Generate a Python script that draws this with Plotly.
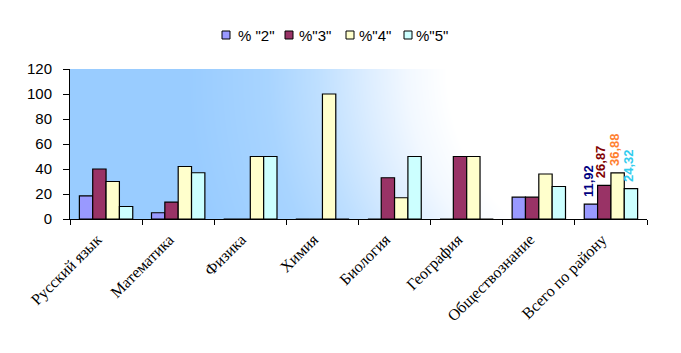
import plotly.graph_objects as go
import zlib, struct, base64, math

categories = ["Русский язык", "Математика", "Физика", "Химия", "Биология",
              "География", "Обществознание", "Всего по району"]
series_names = ['% "2"', '%"3"', '%"4"', '%"5"']
v2 = [18.5, 5, 0, 0, 0, 0, 17.5, 11.92]
v3 = [40, 13.5, 0, 0, 33, 50, 17.5, 26.87]
v4 = [30, 42, 50, 100, 17, 50, 36, 36.88]
v5 = [10, 37, 50, 0, 50, 0, 26, 24.32]
y_ticks = [0, 20, 40, 60, 80, 100, 120]

fill_colors = ["#9999FF", "#993366", "#FFFFCC", "#CCFFFF"]
label_colors = ["#000080", "#800000", "#FF8030", "#33CCEE"]

FIG_W, FIG_H = 681, 353
ML, MR, MT, MB = 70, 34, 69, 134
W, H = FIG_W - ML - MR, FIG_H - MT - MB
BARGAP = 0.26

fig = go.Figure()
for name, vals, fc in zip(series_names, [v2, v3, v4, v5], fill_colors):
    fig.add_trace(go.Bar(
        x=categories, y=vals, name=name, showlegend=False,
        marker=dict(color=fc, line=dict(color="black", width=1.2)),
    ))

# data labels for the last category (value read from the series arrays)
bar_px = W / len(categories) * (1 - BARGAP) / 4
annotations = []
for i, vals in enumerate([v2, v3, v4, v5]):
    annotations.append(dict(
        x=categories[-1], y=vals[-1], xref="x", yref="y",
        text="<b>" + f"{vals[-1]:.2f}".replace(".", ",") + "</b>",
        textangle=-90, showarrow=False, xanchor="center", yanchor="bottom",
        xshift=(i - 1.5) * bar_px - 3, yshift=5,
        font=dict(family="Liberation Sans, Arial", size=13, color=label_colors[i]),
    ))

# plot-area gradient background (radial from the top-right corner) as a PNG
stops = [(0, (255, 255, 255)), (200, (255, 255, 255)), (240, (242, 248, 255)),
         (280, (220, 237, 255)), (330, (190, 223, 255)), (380, (168, 212, 255)),
         (460, (153, 204, 255)), (10000, (153, 204, 255))]
def color_at(d):
    for (d0, c0), (d1, c1) in zip(stops, stops[1:]):
        if d <= d1:
            t = (d - d0) / (d1 - d0)
            return tuple(int(round(a + (b - a) * t)) for a, b in zip(c0, c1))
    return stops[-1][1]
raw = bytearray()
for yy in range(H):
    raw.append(0)
    for xx in range(W):
        raw.extend(color_at(math.hypot(W - xx, yy)))
def chunk(tag, data):
    c = struct.pack(">I", len(data)) + tag + data
    return c + struct.pack(">I", zlib.crc32(tag + data) & 0xffffffff)
png = (b"\x89PNG\r\n\x1a\n" + chunk(b"IHDR", struct.pack(">IIBBBBB", W, H, 8, 2, 0, 0, 0))
       + chunk(b"IDAT", zlib.compress(bytes(raw), 9)) + chunk(b"IEND", b""))
src = "data:image/png;base64," + base64.b64encode(png).decode()

# manual compact legend (pixel layout converted to paper coordinates)
legend_sq_left = [222, 285, 346, 404]
legend_text_left = [236, 297, 357, 414]
legend_y = 35
sq = 8
shapes = []
def px_to_paper_x(px):
    return (px - ML) / W
def px_to_paper_y(py):
    return (FIG_H - MB - py) / H
for i, name in enumerate(series_names):
    x0 = legend_sq_left[i]
    shapes.append(dict(type="rect", xref="paper", yref="paper",
                       x0=px_to_paper_x(x0), x1=px_to_paper_x(x0 + sq),
                       y0=px_to_paper_y(legend_y + sq / 2), y1=px_to_paper_y(legend_y - sq / 2),
                       fillcolor=fill_colors[i], line=dict(color="black", width=1)))
    annotations.append(dict(text=name, xref="paper", yref="paper",
                            x=px_to_paper_x(legend_text_left[i]), y=px_to_paper_y(legend_y),
                            xanchor="left", yanchor="middle", showarrow=False,
                            font=dict(family="Liberation Sans, Arial", size=15, color="black")))

fig.update_layout(
    width=FIG_W, height=FIG_H,
    margin=dict(l=ML, r=MR, t=MT, b=MB),
    paper_bgcolor="white",
    plot_bgcolor="rgba(0,0,0,0)",
    barmode="group", bargap=BARGAP, bargroupgap=0,
    font=dict(family="Liberation Sans, Arial", size=14, color="black"),
    images=[dict(source=src, xref="paper", yref="paper", x=0, y=1,
                 sizex=1, sizey=1, sizing="stretch", layer="below",
                 xanchor="left", yanchor="top")],
    shapes=shapes,
    annotations=annotations,
    showlegend=False,
)
fig.update_yaxes(range=[0, 120], tickvals=y_ticks, showgrid=False,
                 showline=True, linecolor="black", linewidth=1,
                 ticks="outside", ticklen=6, tickcolor="black",
                 ticklabelstandoff=8,
                 tickfont=dict(size=15), zeroline=False)
fig.update_xaxes(showgrid=False, showline=True, linecolor="black", linewidth=1,
                 ticks="outside", ticklen=5, tickcolor="black",
                 tickson="boundaries", tickangle=-45,
                 ticklabelshift=-9, ticklabelstandoff=4,
                 tickfont=dict(family="Liberation Serif, Times New Roman", size=16))

fig.write_html("out.html")
